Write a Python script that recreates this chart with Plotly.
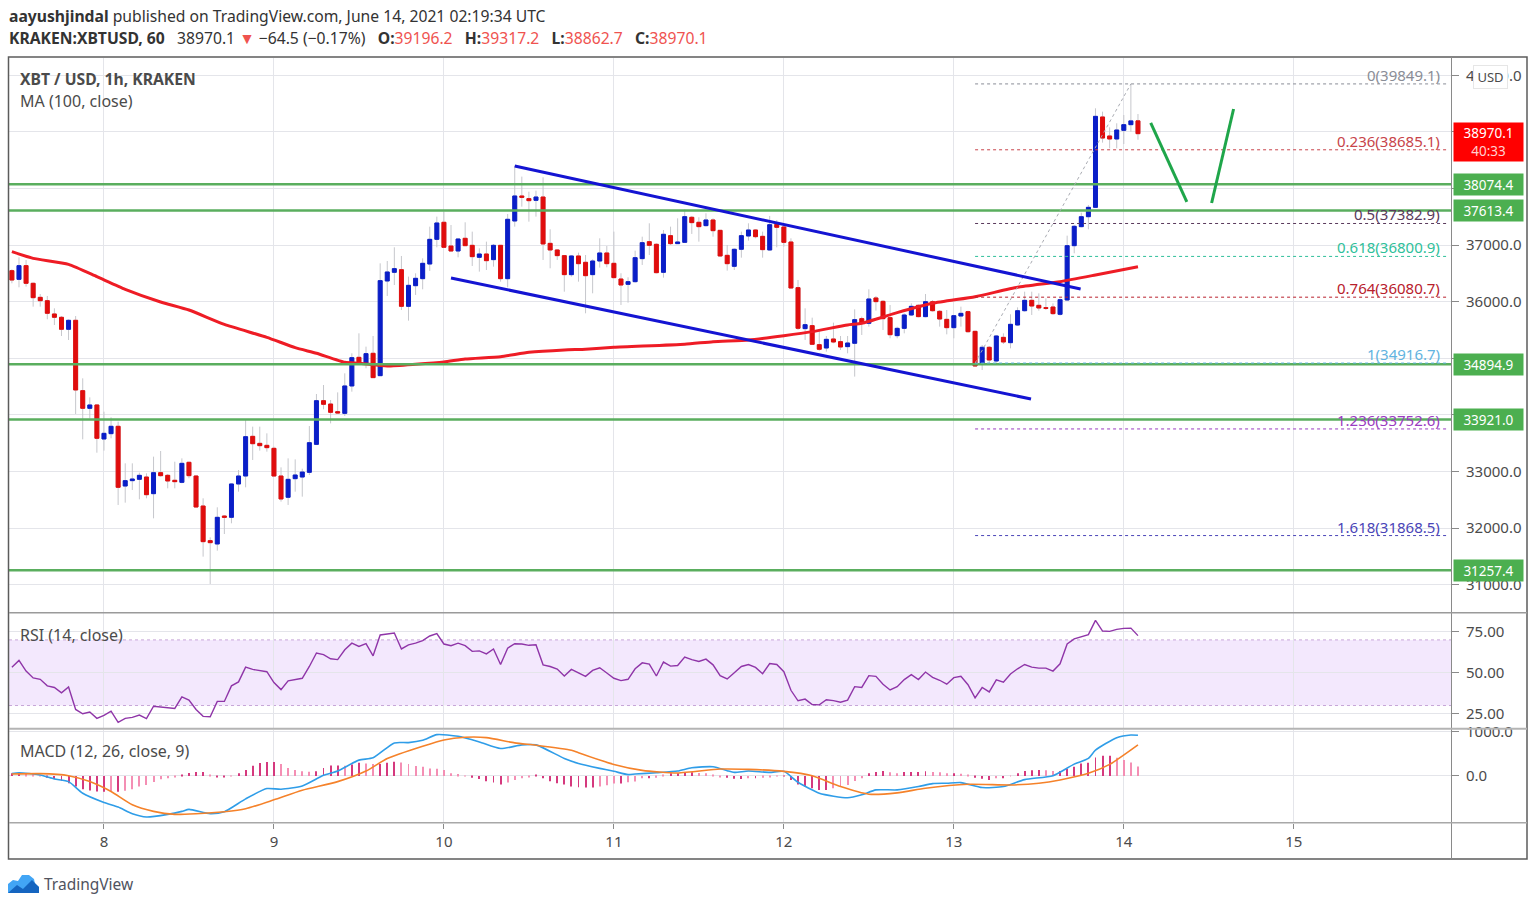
import pandas as pd
import plotly.graph_objects as go
from plotly.subplots import make_subplots

W = 1536
H = 908

# hourly candles, first one is 2021-06-07 11:00
open_ = [
    36549, 36396, 36638, 36326, 36078, 36019, 35784, 35725, 35513, 35672,
    34429, 34117, 34176, 33575, 33669, 33799, 32744, 32839, 32862, 32903,
    32609, 32980, 32933, 32845, 32809, 33163, 32921, 32391, 31779, 31720,
    32214, 32191, 32780, 32921, 33622, 33498, 33463, 33410, 32921, 32545,
    32874, 32903, 32986, 33480, 34252, 34193, 34058, 34028, 34512, 35018,
    34906, 35089, 34694, 36367, 36520, 36567, 35919, 36284, 36408, 36667,
    37103, 37404, 36985, 36897, 37121, 36997, 36785, 36844, 36744, 36997,
    36408, 37427, 37869, 37822, 37792, 37851, 37032, 36915, 36815, 36479,
    36809, 36697, 36479, 36720, 36862, 36679, 36402, 36308, 36355, 36762,
    37062, 37015, 36520, 37168, 37027, 37050, 37492, 37404, 37345, 37445,
    37262, 36820, 36626, 36927, 37162, 37268, 37156, 36915, 37368, 37321,
    37056, 36249, 35525, 35578, 35242, 35183, 35342, 35295, 35207, 35266,
    35701, 35619, 36067, 36007, 35719, 35401, 35530, 35766, 35937, 35737,
    36001, 35831, 35689, 35542, 35748, 35825, 35477, 34912, 35195, 34953,
    35371, 35277, 35589, 35842, 36025, 35937, 35895, 35907, 35778, 36031,
    36991, 37327, 37503, 37668, 39265, 38929, 38876, 39029, 39129, 39196.2,
]
high = [
    36573, 36785, 36738, 36340, 36137, 36102, 35884, 35748, 35689, 35748,
    34647, 34311, 34193, 34058, 33958, 33881, 33145, 33145, 32980, 32968,
    33263, 33363, 32957, 33174, 33233, 33174, 32939, 32527, 31837, 32368,
    32230, 32792, 33027, 33911, 33793, 33793, 33675, 33440, 33074, 33233,
    33215, 33050, 33804, 34370, 34529, 34264, 34399, 34735, 35089, 35442,
    35207, 35395, 36679, 36720, 36962, 36809, 36444, 36502, 36767, 37327,
    37504, 37592, 37356, 37121, 37404, 37239, 36944, 37062, 37021, 37003,
    37551, 38399, 38211, 37945, 37963, 38199, 37280, 36930, 36826, 36826,
    36868, 36826, 36750, 37121, 36985, 37239, 36503, 36432, 36903, 37150,
    37386, 37033, 37268, 37327, 37474, 37633, 37516, 37492, 37563, 37474,
    37268, 37003, 36944, 37239, 37386, 37280, 37239, 37516, 37445, 37339,
    37121, 36385, 35884, 35719, 35501, 35395, 35631, 35395, 35395, 35866,
    35737, 36220, 36102, 36031, 35942, 35560, 35795, 35972, 35954, 36137,
    36031, 35854, 35854, 35766, 35913, 35842, 35489, 35236, 35218, 35412,
    35442, 35778, 35901, 36178, 36178, 36149, 36060, 35972, 36060, 37168,
    37356, 37574, 37710, 39418, 39359, 39082, 39153, 39300, 39849.1, 39317.2,
]
low = [
    36326, 36255, 36267, 35913, 35913, 35690, 35589, 35395, 35324, 34017,
    33569, 33940, 33333, 33369, 33587, 32409, 32450, 32674, 32509, 32527,
    32173, 32909, 32703, 32703, 32792, 32880, 32368, 31496, 31013, 31602,
    31896, 32085, 32644, 32721, 33204, 33369, 33351, 32909, 32468, 32409,
    32644, 32556, 32938, 33468, 34099, 33851, 34028, 33981, 34411, 34883,
    34824, 34659, 34688, 36102, 36296, 35855, 35666, 36120, 36220, 36544,
    36962, 36962, 36885, 36785, 36985, 36632, 36532, 36561, 36620, 36355,
    36255, 37327, 37680, 37415, 37504, 36738, 36591, 36738, 36178, 36444,
    36355, 35796, 36149, 36603, 36608, 36414, 35943, 35984, 36338, 36650,
    36826, 36502, 36426, 37003, 37021, 37044, 37198, 37062, 37327, 37150,
    36797, 36550, 36561, 36779, 37080, 37121, 36779, 36903, 36962, 36974,
    36238, 35501, 35325, 35236, 35136, 35118, 35266, 35148, 35089, 34677,
    35413, 35560, 35843, 35501, 35354, 35354, 35442, 35748, 35725, 35725,
    35825, 35560, 35424, 35354, 35560, 35454, 34853, 34794, 34912, 34924,
    35253, 35177, 35572, 35825, 35766, 35842, 35854, 35766, 35754, 36019,
    36856, 37315, 37280, 37662, 38811, 38711, 38711, 38787, 39005, 38862.7,
]
close = [
    36384, 36638, 36326, 36072, 36019, 35796, 35725, 35513, 35672, 34441,
    34117, 34176, 33587, 33675, 33799, 32721, 32839, 32868, 32933, 32591,
    32980, 32927, 32833, 32821, 33145, 32927, 32373, 31761, 31743, 32191,
    32191, 32780, 32921, 33616, 33492, 33457, 33422, 32921, 32515, 32862,
    32939, 32991, 33510, 34252, 34188, 34046, 34034, 34512, 35012, 34906,
    35083, 34659, 36373, 36526, 36585, 35919, 36290, 36414, 36679, 37103,
    37392, 36962, 36897, 37109, 36991, 36797, 36844, 36726, 36997, 36408,
    37457, 37869, 37845, 37786, 37851, 37021, 36915, 36815, 36479, 36809,
    36673, 36461, 36720, 36862, 36673, 36426, 36296, 36355, 36779, 37044,
    36997, 36514, 37192, 37027, 37056, 37504, 37398, 37327, 37445, 37256,
    36809, 36673, 36927, 37168, 37268, 37150, 36921, 37362, 37315, 37050,
    36243, 35531, 35595, 35248, 35160, 35336, 35289, 35201, 35271, 35684,
    35625, 36049, 36002, 35701, 35418, 35530, 35766, 35919, 35737, 36001,
    35842, 35695, 35542, 35754, 35795, 35471, 34865, 35195, 34971, 35395,
    35289, 35601, 35842, 36025, 35925, 35890, 35884, 35790, 36037, 36991,
    37333, 37503, 37668, 39276, 38893, 38876, 39035, 39129, 39196, 38970.1,
]

# everything below with "_hours" counts hours from 2021-06-08 00:00
ma_hours = [-13, -10, -5, -1, 3, 8, 12, 17, 23, 27, 30, 34, 36, 40, 44, 48, 51, 56, 60, 65, 68,
            72, 82, 86, 91, 96, 100, 105, 107, 112, 117, 123, 129, 135, 140, 146]
ma_values = [36885, 36767, 36661, 36443, 36220, 35996, 35854, 35600, 35371, 35189, 35089, 34930, 34912,
             34865, 34895, 34936, 34989, 35030, 35106, 35148, 35160, 35195, 35248, 35295, 35325, 35401,
             35472, 35590, 35619, 35807, 35972, 36090, 36255, 36355, 36473, 36620]

rsi = [
    53.4, 57.5, 51, 46.8, 46, 42, 41, 37.7, 41.3, 27.6,
    25, 26, 22.2, 24, 26.6, 19.8, 22.2, 22.8, 24.2, 22,
    29.6, 29, 28.4, 28.2, 35.3, 33.3, 27.6, 23.4, 23.2, 32.5,
    32.5, 42, 44.4, 53.4, 52, 51.4, 50.6, 44, 39.7, 45,
    46, 46.6, 53.8, 62, 61, 58.5, 58, 64, 68, 66,
    67.7, 60.3, 73, 73.8, 74.2, 64.5, 67, 68, 69.6, 72.4,
    73.8, 67.5, 66.5, 68, 66.5, 63, 63.3, 61.5, 64.5, 55,
    65, 67.7, 67.5, 66.7, 67, 54.8, 53.8, 52.2, 48, 52,
    50, 47.8, 51.4, 53, 49.8, 46.6, 45.2, 46, 52.4, 56,
    55.2, 48, 56.5, 54, 54.4, 59.5, 58, 56.9, 58.3, 54.8,
    48.2, 46.2, 50, 53.8, 55, 53.2, 49.4, 55.6, 55, 50.6,
    39.3, 32.9, 33.9, 30.6, 30.4, 33.5, 33, 32, 33.3, 41.5,
    41, 48.2, 47.8, 43, 39.5, 41.5, 45.8, 48.8, 45.8, 50.4,
    47.2, 45.4, 43, 47, 47.8, 42.7, 34.7, 41, 38.3, 45.6,
    44.2, 49.2, 52.4, 55, 53.4, 52.8, 52.8, 51, 55.4, 67.5,
    70.6, 72, 73.2, 81.9, 75.4, 75.2, 76.4, 77, 77.2, 72.6,
]

macd_hours = [-13, -12, -9, -7, -5, -3, 0, 2, 4, 6, 9, 11, 12, 15, 17, 20, 23, 25, 28, 31, 33, 36, 38, 41,
              43, 45, 47, 50, 53, 56, 59, 61, 65, 67, 70, 72, 74, 75, 78, 81, 83, 86, 88, 89, 91, 94, 96,
              98, 101, 105, 107, 109, 112, 115, 117, 119, 121, 124, 127, 130, 134, 137, 139, 140, 143,
              145, 146]
macd_values = [52, 74, 22, -67, -126, -385, -592, -696, -844, -918, -858, -792, -747, -844, -799, -511,
               -281, -296, -222, 15, 111, 355, 407, 740, 747, 799, 925, 888, 762, 614, 696, 696, 392, 281,
               170, 104, 30, 44, 74, 111, 185, 207, 118, 81, 111, 81, 104, -141, -385, -488, -422, -311,
               -311, -237, -170, -163, -148, -259, -237, -81, 7, 266, 392, 577, 858, 918, 910]

signal_hours = [-13, -9, -5, -2, 1, 4, 7, 10, 13, 17, 20, 24, 28, 33, 37, 40, 45, 48, 51, 54, 58, 61, 66,
                67, 72, 76, 81, 87, 91, 96, 100, 104, 108, 112, 116, 122, 128, 132, 135, 139, 142, 146]
signal_values = [44, 52, 7, -126, -348, -644, -792, -858, -844, -799, -733, -533, -318, -126, 111, 392,
                 666, 807, 866, 858, 740, 688, 577, 518, 259, 126, 67, 155, 148, 104, 7, -237, -407, -377,
                 -274, -185, -200, -163, -89, 59, 259, 696]

hist = [
    59, 59, 44, 22, 4, -37, -67, -104, -163, -237,
    -296, -326, -348, -355, -348, -355, -333, -296, -237, -200,
    -133, -74, -52, -15, 22, 67, 89, 89, 15, -15,
    -15, 7, 59, 133, 229, 289, 311, 311, 266, 178,
    133, 104, 96, 104, 178, 237, 237, 229, 259, 296,
    281, 266, 266, 296, 318, 303, 266, 222, 207, 170,
    163, 133, 59, 44, 4, -37, -67, -118, -148, -192,
    -148, -89, -52, -15, 22, -52, -118, -163, -192, -237,
    -252, -259, -259, -237, -207, -170, -170, -141, -126, -52,
    -52, -37, 22, 59, 59, 74, 81, 67, 59, 22,
    -15, -37, -59, -67, -52, -52, -37, -15, -4, 4,
    -89, -192, -237, -274, -311, -311, -274, -237, -200, -111,
    -52, 59, 89, 111, 81, 59, 89, 89, 89, 104,
    89, 81, 59, 59, 52, 22, -37, -59, -89, -52,
    -52, -7, 59, 111, 126, 133, 126, 111, 111, 155,
    207, 281, 296, 414, 451, 451, 407, 355, 303, 215,
]

sr_levels = [38074.4, 37613.4, 34894.9, 33921.0, 31257.4]
fib_ratios = ["0", "0.236", "0.5", "0.618", "0.764", "1", "1.236", "1.618"]
fib_levels = [39849.1, 38685.1, 37382.9, 36800.9, 36080.7, 34916.7, 33752.6, 31868.5]
fib_colors = ["#8a8d96", "#c8444a", "#5a3a5c", "#2fbf9a", "#b8202c", "#62b3e0", "#9a3cc0", "#4a45b8"]
fib_start_hour = 123
fib_end_hour = 189.7

# drawn trend lines: hours, prices
channel_top = ([58, 137.9], [38399, 36225])
channel_bottom = ([49, 130.9], [36420, 34282])
arrow_down = ([147.8, 152.9], [39159, 37763])
arrow_up = ([156.4, 159.5], [37745, 39406])

# 34000, 35000, 38000 and 39000 sit behind the price tags, so no label for them
price_ticks = [31000, 32000, 33000, 34000, 35000, 36000, 37000, 38000, 39000, 40000]
price_tick_labels = ["31000.0", "32000.0", "33000.0", "", "", "36000.0", "37000.0", "", "", "40000.0"]
rsi_ticks = [25, 50, 75]
macd_ticks = [0, 1000]
day_ticks = [8, 9, 10, 11, 12, 13, 14, 15]

TEXT = "#4b4b4b"
GRID = "#e4e5ea"
GREEN = "#5aae5e"
RED = "#e00d0d"
BLUE = "#0a1ec8"
WICK = "#c6c7cc"
FONT = "Noto Sans"


def xp(px):
    return px / W


def yp(px):
    return 1 - px / H


def at(hours):
    return pd.Timestamp("2021-06-08") + pd.to_timedelta(hours, unit="h")


times = pd.date_range("2021-06-07 11:00", periods=len(close), freq="h")

fig = make_subplots(rows=3, cols=1, shared_xaxes=True)

# wicks first, bodies on top, so the wick can stay grey
fig.add_trace(go.Candlestick(x=times, open=open_, high=high, low=low, close=close,
                             increasing=dict(line=dict(color=WICK, width=1), fillcolor=WICK),
                             decreasing=dict(line=dict(color=WICK, width=1), fillcolor=WICK),
                             hoverinfo="skip"), row=1, col=1)
body_top = [max(a, b) for a, b in zip(open_, close)]
body_bottom = [min(a, b) for a, b in zip(open_, close)]
fig.add_trace(go.Candlestick(x=times, open=open_, high=body_top, low=body_bottom, close=close,
                             increasing=dict(line=dict(color=BLUE, width=1), fillcolor=BLUE),
                             decreasing=dict(line=dict(color=RED, width=1), fillcolor=RED),
                             hoverinfo="skip"), row=1, col=1)
fig.add_trace(go.Scatter(x=[at(h) for h in ma_hours], y=ma_values, mode="lines",
                         line=dict(color="#ee1c25", width=3, shape="spline", smoothing=0.5)), row=1, col=1)

fig.add_trace(go.Scatter(x=times, y=rsi, mode="lines", line=dict(color="#8f35a8", width=1.4)), row=2, col=1)

hist_colors = []
for i, v in enumerate(hist):
    prev = hist[i - 1] if i > 0 else 0
    hist_colors.append("#d5397e" if abs(v) >= abs(prev) else "#f48fb4")
fig.add_trace(go.Bar(x=times, y=hist, width=480000, marker=dict(color=hist_colors, line=dict(width=0))),
              row=3, col=1)
fig.add_trace(go.Scatter(x=[at(h) for h in macd_hours], y=macd_values, mode="lines",
                         line=dict(color="#2f9de8", width=1.6, shape="spline", smoothing=0.6)), row=3, col=1)
fig.add_trace(go.Scatter(x=[at(h) for h in signal_hours], y=signal_values, mode="lines",
                         line=dict(color="#f5822a", width=1.6, shape="spline", smoothing=0.6)), row=3, col=1)

# support / resistance lines and their price tags
for level in sr_levels:
    fig.add_shape(type="line", xref="x domain", yref="y", x0=0, x1=1, y0=level, y1=level,
                  line=dict(color=GREEN, width=2.5))
    fig.add_annotation(xref="paper", yref="y", x=xp(1488), y=level, xanchor="center", yanchor="middle",
                       text=f"{level:.1f}", showarrow=False, width=67, height=19, bgcolor="#4caf50",
                       font=dict(color="white", size=13.5, family=FONT))

# fibonacci
for ratio, level, color in zip(fib_ratios, fib_levels, fib_colors):
    fig.add_shape(type="line", xref="x", yref="y", x0=at(fib_start_hour), x1=at(fib_end_hour), y0=level, y1=level,
                  line=dict(color=color, width=1, dash="3px,3px"))
    fig.add_annotation(xref="paper", yref="y", x=xp(1442), y=level, yshift=9, xanchor="right", yanchor="middle",
                       text=f"{ratio}({level})", showarrow=False, font=dict(color=color, size=15, family=FONT))
fig.add_shape(type="line", xref="x", yref="y", x0=at(fib_start_hour), x1=at(145), y0=fib_levels[5], y1=fib_levels[0],
              line=dict(color="#a9abb2", width=1, dash="3px,3px"))

for (hours, prices), color, width in [(channel_top, "#1414d2", 3), (channel_bottom, "#1414d2", 3),
                                      (arrow_down, "#1fa64a", 3), (arrow_up, "#1fa64a", 3)]:
    fig.add_shape(type="line", xref="x", yref="y", x0=at(hours[0]), x1=at(hours[1]), y0=prices[0], y1=prices[1],
                  line=dict(color=color, width=width))

# rsi band
fig.add_shape(type="rect", xref="x2 domain", yref="y2", x0=0, x1=1, y0=30, y1=70, layer="below",
              fillcolor="rgba(170,90,240,0.14)", line=dict(width=0))
for level in [30, 70]:
    fig.add_shape(type="line", xref="x2 domain", yref="y2", x0=0, x1=1, y0=level, y1=level, layer="below",
                  line=dict(color="#c7a6d8", width=1, dash="3px,3px"))

# chart frame and pane separators
fig.add_shape(type="rect", xref="paper", yref="paper", x0=xp(8.5), x1=xp(1527), y0=yp(859), y1=yp(57),
              line=dict(color="#5c5c5c", width=1.5))
fig.add_shape(type="line", xref="paper", yref="paper", x0=xp(1451.5), x1=xp(1451.5), y0=yp(859), y1=yp(57),
              line=dict(color="#8a8a8a", width=1))
for y, color, width in [(612.7, "#9a9a9a", 1.5), (728.7, "#b4b4b4", 2), (822.7, "#a8a8a8", 1.5)]:
    fig.add_shape(type="line", xref="paper", yref="paper", x0=xp(9), x1=xp(1527), y0=yp(y), y1=yp(y),
                  line=dict(color=color, width=width))

# last price tag
fig.add_annotation(xref="paper", yref="paper", x=xp(1488), y=yp(142), xanchor="center", yanchor="middle",
                   text="38970.1<br><span style='color:#ffd0d0'>40:33</span>",
                   showarrow=False, width=67, height=36, bgcolor="#ff0000",
                   font=dict(color="white", size=13.5, family=FONT))
fig.add_annotation(xref="paper", yref="paper", x=xp(1490), y=yp(77), xanchor="center", yanchor="middle", text="USD",
                   showarrow=False, width=31, height=20, bgcolor="white", bordercolor="#e6e6e6", borderwidth=1,
                   borderpad=1, font=dict(color=TEXT, size=13, family=FONT))

# header and pane titles
SP = "&nbsp;&nbsp;&nbsp;"
RD = "<span style='color:#ef5350'>%s</span>"
labels = [
    (8, 16, "<b>aayushjindal</b> published on TradingView.com, June 14, 2021 02:19:34 UTC", 15.7, "#333333"),
    (8, 38, "<b>KRAKEN:XBTUSD, 60</b>" + SP + "38970.1 " + RD % "▼" + " −64.5 (−0.17%)" + SP + "<b>O:</b>" + RD % "39196.2"
            + SP + "<b>H:</b>" + RD % "39317.2" + SP + "<b>L:</b>" + RD % "38862.7" + SP + "<b>C:</b>" + RD % "38970.1",
     15.7, "#333333"),
    (19, 79, "<b>XBT / USD, 1h, KRAKEN</b>", 15.7, TEXT),
    (19, 101, "MA (100, close)", 16, TEXT),
    (19, 635, "RSI (14, close)", 16, TEXT),
    (19, 751, "MACD (12, 26, close, 9)", 16, TEXT),
    (43, 884, "TradingView", 15.5, "#50535e"),
]
for px, py, text, size, color in labels:
    fig.add_annotation(xref="paper", yref="paper", x=xp(px), y=yp(py), xanchor="left", yanchor="middle", text=text,
                       showarrow=False, xshift=-1, font=dict(color=color, size=size, family=FONT))

# logo, roughly
cloud = [(8, 893), (8, 884), (13, 880), (18, 881), (22, 875), (29, 875), (34, 879), (35, 884), (39, 887), (39, 893)]
ridge = [(8, 893), (17, 885), (23, 889), (32, 880), (39, 887), (39, 893)]
for pts, color in [(cloud, "#42a5f5"), (ridge, "#1565c0")]:
    path = "M " + " L ".join(f"{xp(a):.5f},{yp(b):.5f}" for a, b in pts) + " Z"
    fig.add_shape(type="path", xref="paper", yref="paper", path=path, fillcolor=color, line=dict(width=0))

x_range = [at(-13.41), at(190.2)]
x_style = dict(range=x_range, domain=[xp(9), xp(1451)], showgrid=True, gridcolor=GRID, gridwidth=1, automargin=False,
               rangeslider=dict(visible=False), tickvals=[at((d - 8) * 24) for d in day_ticks], zeroline=False,
               showline=False)
fig.update_xaxes(**x_style)
fig.update_xaxes(row=3, col=1, ticktext=[str(d) for d in day_ticks], ticks="outside", ticklen=5,
                 tickcolor="#8a8a8a", tickfont=dict(size=15, color=TEXT, family=FONT), showticklabels=True)
y_style = dict(side="right", showgrid=True, gridcolor=GRID, gridwidth=1, zeroline=False, showline=False, ticks="outside",
               ticklen=7, tickcolor="#8a8a8a", tickfont=dict(size=15, color=TEXT, family=FONT), automargin=False,
               ticklabelstandoff=4)
fig.update_yaxes(**y_style)
fig.update_yaxes(row=1, col=1, domain=[yp(612), yp(58)], range=[30518, 40307], tickvals=price_ticks,
                 ticktext=price_tick_labels)
fig.update_yaxes(row=2, col=1, domain=[yp(728), yp(613)], range=[16.3, 86.4], tickvals=rsi_ticks, tickformat=".2f")
fig.update_yaxes(row=3, col=1, domain=[yp(822.7), yp(729.5)], range=[-1045, 1040], tickvals=macd_ticks, tickformat=".1f")

fig.update_layout(width=W, height=H, autosize=False, margin=dict(l=0, r=0, t=0, b=0), showlegend=False, boxgap=0.2,
                  plot_bgcolor="white", paper_bgcolor="white", font=dict(family=FONT, color=TEXT), hovermode=False)

fig.write_html("out.html", post_script="document.body.style.margin='0';", config=dict(displayModeBar=False))
